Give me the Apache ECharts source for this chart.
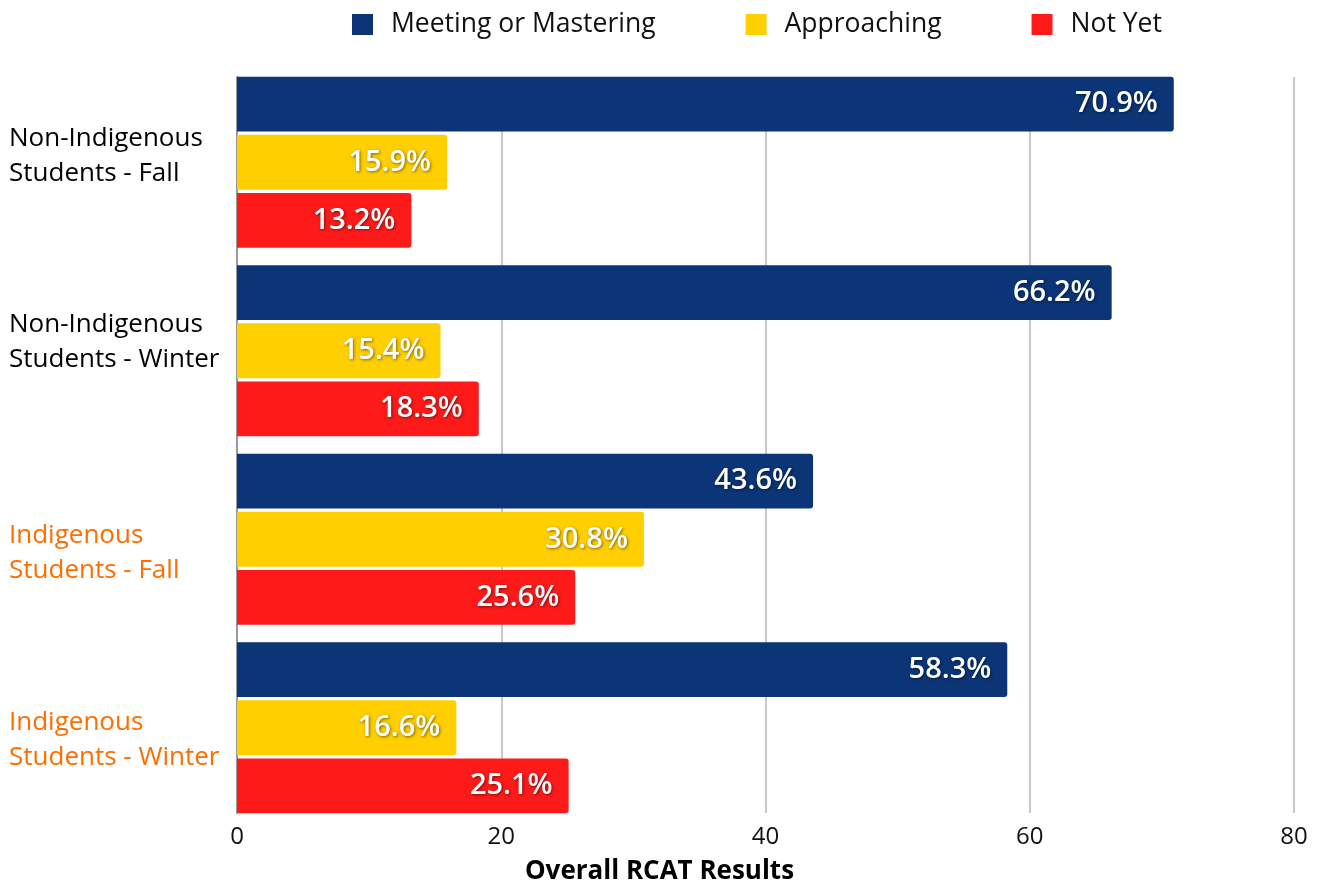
<!DOCTYPE html>
<html>
<head>
<meta charset="utf-8">
<script src="https://cdn.jsdelivr.net/npm/echarts@6/dist/echarts.min.js"></script>
<style>
	html, body {margin: 0; padding: 0; background: #fff;}
	#main {width: 1319px; height: 886px;}
</style>
</head>
<body>
<div id="main"></div>
<script>
	var categories = ['Non-Indigenous\nStudents - Fall', 'Non-Indigenous\nStudents - Winter', 'Indigenous\nStudents - Fall', 'Indigenous\nStudents - Winter'];
	var labelColors = ['#000000', '#000000', '#ff6d01', '#ff6d01'];
	var seriesNames = ['Meeting or Mastering', 'Approaching', 'Not Yet'];
	var meeting = [70.9, 66.2, 43.6, 58.3];
	var approaching = [15.9, 15.4, 30.8, 16.6];
	var notYet = [13.2, 18.3, 25.6, 25.1];
	var xTicks = [0, 20, 40, 60, 80];

	var font = '"Open Sans", "Noto Sans", sans-serif';
	var colors = ['#0b3577', '#ffcf00', '#ff1a1a'];
	// label nudges: spacer line above (+) or below (-) the two text lines
	var labelNudge = [-12, -18, 28, 24];

	function barSeries(name, data, color) {
		return {
			name: name,
			type: 'bar',
			data: data,
			xAxisIndex: 0,
			yAxisIndex: 0,
			barGap: '6%',
			barCategoryGap: '9.3%',
			itemStyle: {color: color, borderRadius: [0, 3, 3, 0]},
			label: {
				show: true,
				position: 'insideRight',
				distance: 16,
				formatter: function (p) { return p.value.toFixed(1) + '%'; },
				color: '#fff',
				fontFamily: font,
				fontWeight: 600,
				fontSize: 29,
				textShadowColor: 'rgba(0,0,0,0.5)',
				textShadowBlur: 3,
				textShadowOffsetX: 1,
				textShadowOffsetY: 1
			}
		};
	}

	var rich = {t: {fontSize: 26, lineHeight: 35, fontFamily: font}};
	labelNudge.forEach(function (n, i) {
		rich['s' + i] = {lineHeight: Math.abs(n), fontSize: 1};
	});

	var myChart = echarts.init(document.getElementById('main'));
	var option = {
		animation: false,
		textStyle: {fontFamily: font},
		legend: {
			data: seriesNames,
			top: 6,
			left: 347,
			itemWidth: 21,
			itemHeight: 21,
			itemGap: 90,
			icon: 'rect',
			textStyle: {fontSize: 26.5, color: '#111', padding: [0, 0, 0, 13], fontFamily: font}
		},
		title: {
			text: 'Overall RCAT Results',
			left: 'center',
			top: 854,
			textStyle: {fontSize: 26, fontWeight: 'bold', color: '#000', fontFamily: font}
		},
		// grid 0 holds the bars, grid 1 only draws the visible axes and gridlines
		grid: [
			{left: 237, right: 25, top: 68, bottom: 64},
			{left: 237, right: 25, top: 77, bottom: 73}
		],
		xAxis: [{
			gridIndex: 0,
			type: 'value',
			min: xTicks[0],
			max: xTicks[xTicks.length - 1],
			interval: 20,
			show: false
		}, {
			gridIndex: 1,
			type: 'value',
			min: xTicks[0],
			max: xTicks[xTicks.length - 1],
			interval: 20,
			axisLine: {show: false},
			axisTick: {show: false},
			splitLine: {lineStyle: {color: '#c8c8c8', width: 2}},
			axisLabel: {fontSize: 24, color: '#111', margin: 12, fontFamily: font}
		}],
		yAxis: [{
			gridIndex: 0,
			type: 'category',
			data: categories,
			inverse: true,
			axisTick: {show: false},
			axisLine: {show: false},
			axisLabel: {
				align: 'left',
				margin: 228,
				fontSize: 26,
				lineHeight: 35,
				fontFamily: font,
				color: function (value, index) { return labelColors[index]; },
				formatter: function (value, index) {
					var lines = value.split('\n').map(function (s) { return '{t|' + s + '}'; });
					var spacer = '{s' + index + '| }';
					if (labelNudge[index] > 0) lines.unshift(spacer);
					else lines.push(spacer);
					return lines.join('\n');
				},
				rich: rich
			}
		}, {
			gridIndex: 1,
			type: 'category',
			data: categories,
			inverse: true,
			axisTick: {show: false},
			axisLabel: {show: false},
			axisLine: {lineStyle: {color: '#999', width: 2}}
		}],
		series: [
			barSeries(seriesNames[0], meeting, colors[0]),
			barSeries(seriesNames[1], approaching, colors[1]),
			barSeries(seriesNames[2], notYet, colors[2])
		]
	};
	myChart.setOption(option);
</script>
</body>
</html>
